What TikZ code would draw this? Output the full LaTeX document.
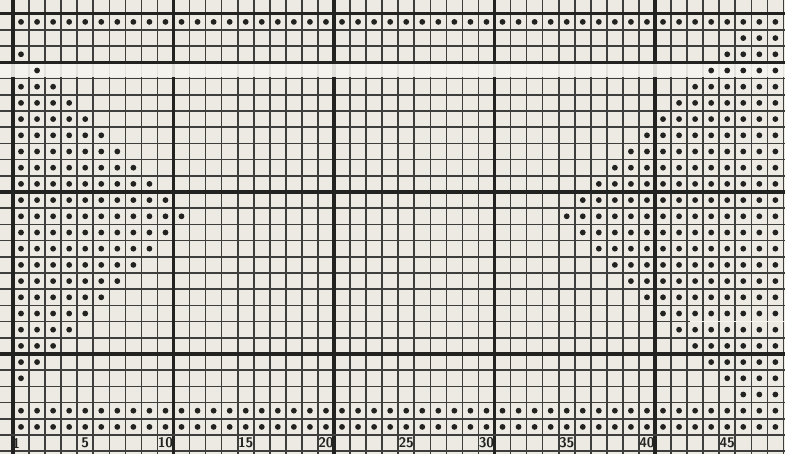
\documentclass[tikz,border=0pt]{standalone}
\definecolor{paper}{RGB}{236, 234, 226}
\definecolor{paperpale}{RGB}{245, 244, 239}
\definecolor{inkgray}{RGB}{62, 62, 60}
\definecolor{inkdark}{RGB}{34, 34, 32}
\usepackage{tikz}
\usetikzlibrary{positioning, calc}

% cell geometry of the chart paper (in px of the scan)
\newcommand{\cw}{16.05}
\newcommand{\ch}{16.2}
\newcommand{\xo}{13}
\newcommand{\yo}{13.8}
% dot in column #1, row #2
\newcommand{\stitch}[2]{\fill[stitchdot] ({\xo+(#1-0.5)*\cw},{\yo+(#2+0.5)*\ch}) circle (2.9);}

\begin{document}
\begin{tikzpicture}[
  x=1pt, y=-1pt,
  thinrule/.style={draw=inkgray, line width=1.6pt},
  thickrule/.style={draw=inkdark, line width=3.2pt},
  stitchdot/.style={fill=inkdark},
  numlabel/.style={font=\sffamily\bfseries\fontsize{14}{14}\selectfont, text=inkdark, inner sep=0pt}
]
  \fill[paper] (0,0) rectangle (785,454);
  \useasboundingbox (0,0) rectangle (785,454);

  % grid
  \foreach \k in {0,...,48}
    \draw[thinrule] ({\xo+\k*\cw},0) -- ({\xo+\k*\cw},454);
  \foreach \k in {0,...,27}
    \draw[thinrule] (0,{\yo+\k*\ch}) -- (785,{\yo+\k*\ch});
  \foreach \k in {0,10,20,30,40}
    \draw[thickrule] ({\xo+\k*\cw},0) -- ({\xo+\k*\cw},454);
  \foreach \k in {0,3,11,21}
    \draw[thickrule] (0,{\yo+\k*\ch}) -- (785,{\yo+\k*\ch});
  \draw[thinrule, line width=2.4pt] (0,{\yo+26*\ch}) -- (785,{\yo+26*\ch});

  % pale strip across the paper
  \fill[paperpale, opacity=0.9] (0,64.2) rectangle (785,77.4);
  \draw[paperpale, line width=1.6pt] (690,{\yo+19*\ch}) -- (785,{\yo+19*\ch});

  % full rows
  \foreach \r in {0,24,25}
    \foreach \c in {1,...,48}
      {\stitch{\c}{\r}}
  % left wedge: row/last column
  \foreach \r/\n in {4/3,5/4,6/5,7/6,8/7,9/8,10/9,11/10,12/11,13/10,14/9,15/8,16/7,17/6,18/5,19/4,20/3,21/2}
    \foreach \c in {1,...,\n}
      {\stitch{\c}{\r}}
  \stitch{1}{2}
  \stitch{2}{3}
  \stitch{1}{22}
  % right wedge: row/first column
  \foreach \r/\m in {1/46,2/45,3/44,4/43,5/42,6/41,7/40,8/39,9/38,10/37,11/36,12/35,13/36,14/37,15/38,16/39,17/40,18/41,19/42,20/43,21/44,22/45,23/46}
    \foreach \c in {\m,...,48}
      {\stitch{\c}{\r}}

  % column numbers
  \node[numlabel] (num1) at ({\xo+0.2*\cw},{\yo+26.5*\ch}) {1};
  \foreach \c in {5,10,...,45}
    \node[numlabel] (num\c) at ({\xo+(\c-0.5)*\cw},{\yo+26.5*\ch}) {\c};
\end{tikzpicture}
\end{document}
